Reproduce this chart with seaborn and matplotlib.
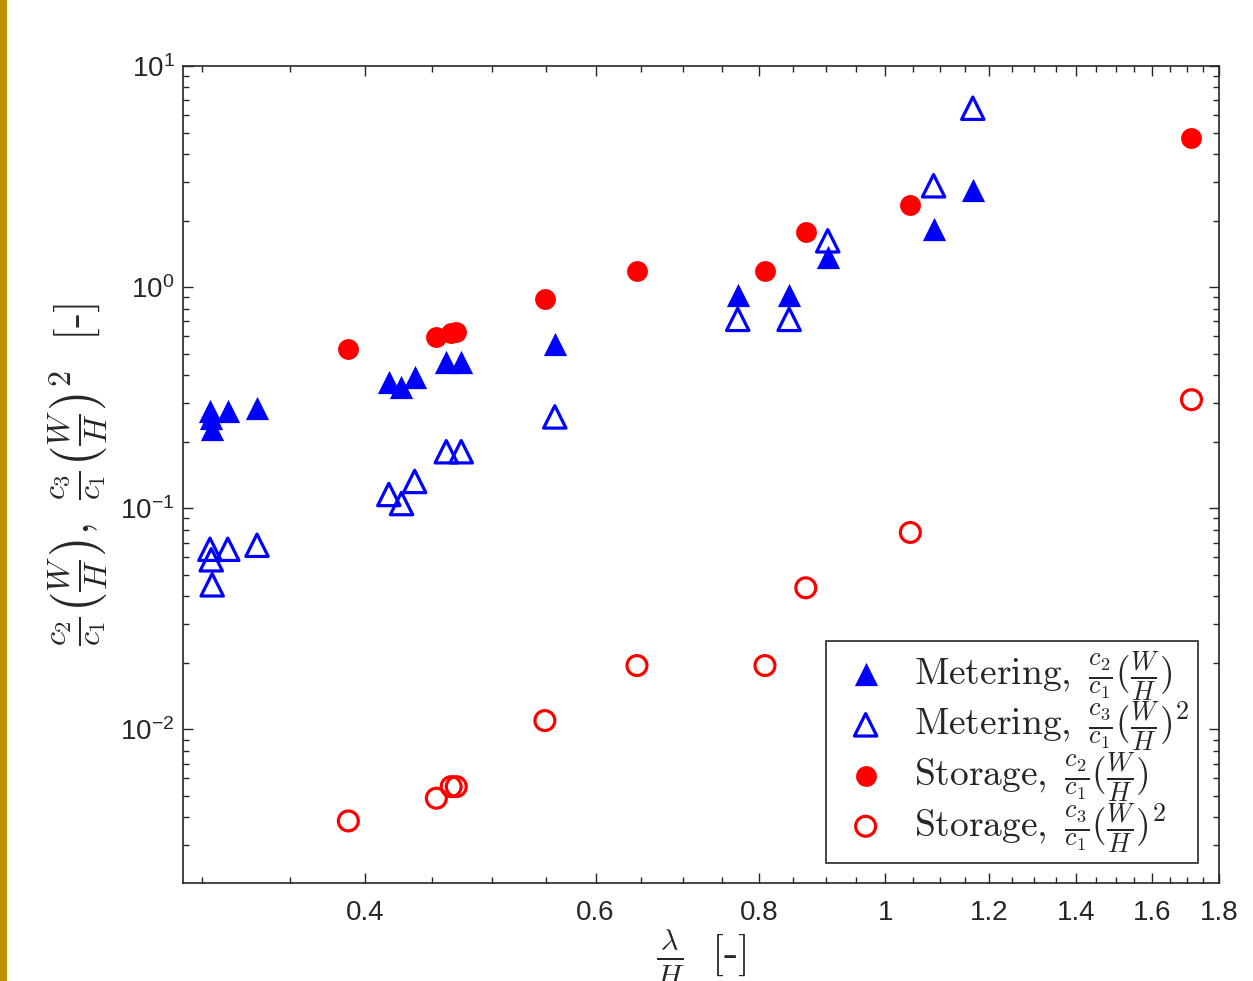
import numpy as np
import matplotlib
matplotlib.use("Agg")
import matplotlib.pyplot as plt
import seaborn as sns
from matplotlib.ticker import FixedLocator, FixedFormatter, FuncFormatter, LogLocator, NullFormatter
from matplotlib.patches import Rectangle

# ---------------- data ----------------
metering_x = [0.3041, 0.3048, 0.3053, 0.3138, 0.3304, 0.4168, 0.4262, 0.4362,
              0.4612, 0.4735, 0.5584, 0.7708, 0.8439, 0.9033, 1.0885, 1.1664]
metering_c2 = [0.2762, 0.2567, 0.2289, 0.2762, 0.2829, 0.3705, 0.3539, 0.3936,
               0.4592, 0.4592, 0.5522, 0.9201, 0.9201, 1.3714, 1.8338, 2.7558]
metering_c3 = [0.06525, 0.05848, 0.04506, 0.06525, 0.06803, 0.11544, 0.10503, 0.13223,
               0.18018, 0.18018, 0.2589, 0.7149, 0.7149, 1.6200, 2.8734, 6.4417]

storage_x = [0.3881, 0.4532, 0.4652, 0.4694, 0.5487, 0.6454, 0.8087, 0.8690, 1.0448, 1.7148]
storage_c2 = [0.5253, 0.5929, 0.6223, 0.6288, 0.8872, 1.1878, 1.1878, 1.7774, 2.3619, 4.7327]
storage_c3 = [0.003855, 0.004884, 0.00551, 0.00551, 0.01096, 0.01944, 0.01944,
              0.04368, 0.07772, 0.3098]

x_major_ticks = [0.4, 0.6, 0.8, 1.0, 1.2, 1.4, 1.6, 1.8]
x_tick_labels = ["0.4", "0.6", "0.8", "1", "1.2", "1.4", "1.6", "1.8"]
y_major_ticks = [1e-2, 1e-1, 1e0, 1e1]

legend_labels = [
    r"$\mathrm{Metering,}\ \frac{c_2}{c_1}(\frac{W}{H})$",
    r"$\mathrm{Metering,}\ \frac{c_3}{c_1}(\frac{W}{H})^2$",
    r"$\mathrm{Storage,}\ \frac{c_2}{c_1}(\frac{W}{H})$",
    r"$\mathrm{Storage,}\ \frac{c_3}{c_1}(\frac{W}{H})^2$",
]
x_label = r"$\frac{\lambda}{H}\ \ [\text{-}]$"
y_label = r"$\frac{c_2}{c_1}\left(\frac{W}{H}\right),\ \frac{c_3}{c_1}\left(\frac{W}{H}\right)^2\ \ [\text{-}]$"

# ---------------- style ----------------
sns.set_theme(style="ticks")
plt.rcParams["font.family"] = ["Liberation Sans", "DejaVu Sans"]
plt.rcParams["mathtext.fontset"] = "cm"

W, H = 1253, 981
fig = plt.figure(figsize=(W / 100, H / 100), dpi=100)
fig.patch.set_facecolor("white")
ax = fig.add_axes([183 / W, (H - 883) / H, 1036 / W, 817 / H])

# gold bar at the left border
fig.patches.append(Rectangle((0, 0), 7 / W, 1, transform=fig.transFigure,
                             facecolor="#BF9000", edgecolor="none"))

blue = "#0000FF"
red = "#FF0000"
sns.scatterplot(x=metering_x, y=metering_c2, marker="^", s=280, color=blue,
                linewidth=0, label=legend_labels[0], ax=ax, zorder=3)
sns.scatterplot(x=metering_x, y=metering_c3, marker="^", s=260, facecolor="none",
                edgecolor=blue, linewidth=2.3, label=legend_labels[1], ax=ax, zorder=3)
sns.scatterplot(x=storage_x, y=storage_c2, marker="o", s=225, color=red,
                linewidth=0, label=legend_labels[2], ax=ax, zorder=3)
sns.scatterplot(x=storage_x, y=storage_c3, marker="o", s=205, facecolor="none",
                edgecolor=red, linewidth=2.3, label=legend_labels[3], ax=ax, zorder=3)

ax.set_xscale("log")
ax.set_yscale("log")
ax.set_xlim(0.29, 1.8)
ax.set_ylim(0.00202, 10)

ax.xaxis.set_major_locator(FixedLocator(x_major_ticks))
ax.xaxis.set_major_formatter(FixedFormatter(x_tick_labels))
minor_x = [v for v in np.round(np.arange(0.30, 1.801, 0.05), 2)
           if not np.any(np.isclose(v, x_major_ticks))]
ax.xaxis.set_minor_locator(FixedLocator(minor_x))
ax.xaxis.set_minor_formatter(NullFormatter())

ax.yaxis.set_major_locator(FixedLocator(y_major_ticks))
ax.yaxis.set_major_formatter(FuncFormatter(
    lambda v, p: r"$\mathregular{10^{%d}}$" % int(round(np.log10(v)))))
ax.yaxis.set_minor_locator(LogLocator(base=10, subs=np.arange(2, 10), numticks=30))
ax.yaxis.set_minor_formatter(NullFormatter())

tick_color = "#262626"
ax.tick_params(which="both", direction="in", top=True, right=True,
               color=tick_color, labelcolor=tick_color, width=1.0)
ax.tick_params(which="major", length=7.5, labelsize=20)
ax.tick_params(which="minor", length=4.5)
ax.tick_params(axis="x", which="major", pad=12)
ax.tick_params(axis="y", which="major", pad=6)
for sp in ax.spines.values():
    sp.set_linewidth(1.2)
    sp.set_color(tick_color)

ax.set_xlabel(x_label, fontsize=31, color="#262626")
ax.xaxis.set_label_coords(0.5, -0.092)
ax.xaxis.label.set_verticalalignment("center")
ax.set_ylabel(y_label, fontsize=33, color="#262626")
ax.yaxis.set_label_coords(-0.10, 0.5)
ax.yaxis.label.set_verticalalignment("center")

leg = ax.legend(loc="lower right", bbox_to_anchor=(0.980, 0.0245), borderaxespad=0,
                fontsize=27, frameon=True, fancybox=False, edgecolor="#262626",
                handletextpad=0.45, labelspacing=-0.08, borderpad=0.22,
                handlelength=1.7)
leg.get_frame().set_linewidth(1.2)
leg.get_frame().set_alpha(1)

fig.savefig("out.png", dpi=100)
